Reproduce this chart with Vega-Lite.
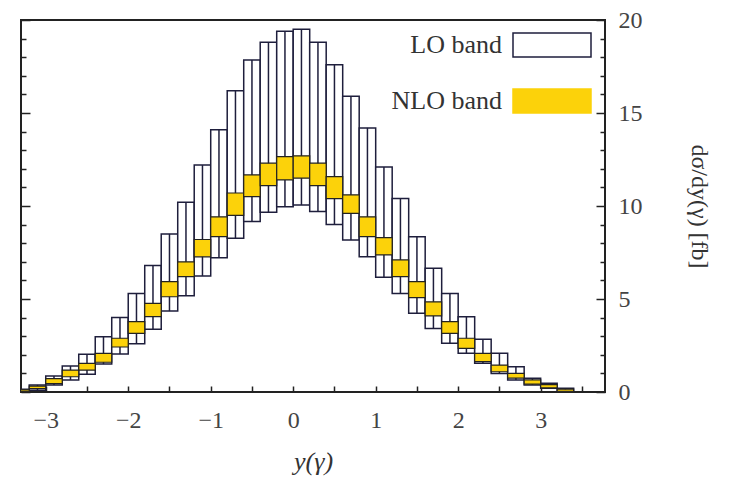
{
  "$schema": "https://vega.github.io/schema/vega-lite/v6.json",
  "width": 584,
  "height": 372,
  "autosize": "none",
  "padding": {"left": 21, "top": 20, "right": 130, "bottom": 94},
  "background": "white",
  "config": {
    "view": {"stroke": "#222", "strokeWidth": 2},
    "font": "Liberation Serif",
    "axis": {"grid": false, "domain": false, "tickColor": "#222", "tickWidth": 1.5, "labelColor": "#444", "labelFont": "Liberation Serif", "titleFont": "Liberation Serif", "titleFontWeight": "normal", "titleColor": "#333"}
  },
  "data": {
    "values": [
      {"x0": -3.4, "x1": -3.2, "lolo": 0.02, "lohi": 0.15, "nlolo": 0.04, "nlohi": 0.12},
      {"x0": -3.2, "x1": -3.0, "lolo": 0.1, "lohi": 0.38, "nlolo": 0.18, "nlohi": 0.32},
      {"x0": -3.0, "x1": -2.8, "lolo": 0.38, "lohi": 0.86, "nlolo": 0.45, "nlohi": 0.72},
      {"x0": -2.8, "x1": -2.6, "lolo": 0.65, "lohi": 1.4, "nlolo": 0.82, "nlohi": 1.18},
      {"x0": -2.6, "x1": -2.4, "lolo": 0.95, "lohi": 2.03, "nlolo": 1.18, "nlohi": 1.54},
      {"x0": -2.4, "x1": -2.2, "lolo": 1.5, "lohi": 2.97, "nlolo": 1.6, "nlohi": 2.08},
      {"x0": -2.2, "x1": -2.0, "lolo": 2.04, "lohi": 4.0, "nlolo": 2.42, "nlohi": 2.89},
      {"x0": -2.0, "x1": -1.8, "lolo": 2.6, "lohi": 5.3, "nlolo": 3.15, "nlohi": 3.78},
      {"x0": -1.8, "x1": -1.6, "lolo": 3.37, "lohi": 6.8, "nlolo": 4.05, "nlohi": 4.77},
      {"x0": -1.6, "x1": -1.4, "lolo": 4.35, "lohi": 8.5, "nlolo": 5.12, "nlohi": 5.93},
      {"x0": -1.4, "x1": -1.2, "lolo": 5.18, "lohi": 10.2, "nlolo": 6.2, "nlohi": 7.0},
      {"x0": -1.2, "x1": -1.0, "lolo": 6.24, "lohi": 12.2, "nlolo": 7.27, "nlohi": 8.2},
      {"x0": -1.0, "x1": -0.8, "lolo": 7.22, "lohi": 14.1, "nlolo": 8.35, "nlohi": 9.42},
      {"x0": -0.8, "x1": -0.6, "lolo": 8.26, "lohi": 16.2, "nlolo": 9.5, "nlohi": 10.7},
      {"x0": -0.6, "x1": -0.4, "lolo": 9.16, "lohi": 17.85, "nlolo": 10.5, "nlohi": 11.67},
      {"x0": -0.4, "x1": -0.2, "lolo": 9.66, "lohi": 18.8, "nlolo": 11.1, "nlohi": 12.3},
      {"x0": -0.2, "x1": 0.0, "lolo": 9.96, "lohi": 19.4, "nlolo": 11.4, "nlohi": 12.65},
      {"x0": 0.0, "x1": 0.2, "lolo": 10.05, "lohi": 19.5, "nlolo": 11.5, "nlohi": 12.7},
      {"x0": 0.2, "x1": 0.4, "lolo": 9.7, "lohi": 18.8, "nlolo": 11.1, "nlohi": 12.3},
      {"x0": 0.4, "x1": 0.6, "lolo": 9.0, "lohi": 17.6, "nlolo": 10.4, "nlohi": 11.58},
      {"x0": 0.6, "x1": 0.8, "lolo": 8.17, "lohi": 15.9, "nlolo": 9.6, "nlohi": 10.6},
      {"x0": 0.8, "x1": 1.0, "lolo": 7.27, "lohi": 14.2, "nlolo": 8.35, "nlohi": 9.42},
      {"x0": 1.0, "x1": 1.2, "lolo": 6.17, "lohi": 12.1, "nlolo": 7.37, "nlohi": 8.3},
      {"x0": 1.2, "x1": 1.4, "lolo": 5.3, "lohi": 10.4, "nlolo": 6.2, "nlohi": 7.1},
      {"x0": 1.4, "x1": 1.6, "lolo": 4.23, "lohi": 8.35, "nlolo": 5.07, "nlohi": 5.93},
      {"x0": 1.6, "x1": 1.8, "lolo": 3.42, "lohi": 6.65, "nlolo": 4.09, "nlohi": 4.85},
      {"x0": 1.8, "x1": 2.0, "lolo": 2.62, "lohi": 5.3, "nlolo": 3.15, "nlohi": 3.78},
      {"x0": 2.0, "x1": 2.2, "lolo": 2.08, "lohi": 4.05, "nlolo": 2.35, "nlohi": 2.89},
      {"x0": 2.2, "x1": 2.4, "lolo": 1.54, "lohi": 2.83, "nlolo": 1.63, "nlohi": 2.08},
      {"x0": 2.4, "x1": 2.6, "lolo": 1.0, "lohi": 2.08, "nlolo": 1.09, "nlohi": 1.45},
      {"x0": 2.6, "x1": 2.8, "lolo": 0.65, "lohi": 1.36, "nlolo": 0.75, "nlohi": 1.0},
      {"x0": 2.8, "x1": 3.0, "lolo": 0.38, "lohi": 0.74, "nlolo": 0.42, "nlohi": 0.65},
      {"x0": 3.0, "x1": 3.2, "lolo": 0.2, "lohi": 0.47, "nlolo": 0.22, "nlohi": 0.4},
      {"x0": 3.2, "x1": 3.4, "lolo": 0.02, "lohi": 0.2, "nlolo": 0.04, "nlohi": 0.15}
    ]
  },
  "transform": [{"calculate": "(datum.x0 + datum.x1) / 2", "as": "xm"}],
  "layer": [
    {
      "mark": {"type": "rect", "clip": true, "strokeWidth": 1.5},
      "encoding": {
        "x": {"field": "x0", "type": "quantitative",
          "scale": {"domain": [-3.3, 3.78], "nice": false, "zero": false},
          "axis": {"values": [-3, -2.5, -2, -1.5, -1, -0.5, 0, 0.5, 1, 1.5, 2, 2.5, 3, 3.5],
            "format": "~g",
            "labelExpr": "datum.value % 1 === 0 ? datum.label : ''",
            "tickSize": -6, "labelPadding": 22, "labelFontSize": 24,
            "title": "y(γ)", "titleFontSize": 26, "titleFontStyle": "italic", "titlePadding": 16}},
        "x2": {"field": "x1"},
        "y": {"field": "lolo", "type": "quantitative",
          "scale": {"domain": [0, 20], "nice": false},
          "axis": {"orient": "left", "values": [0,1,2,3,4,5,6,7,8,9,10,11,12,13,14,15,16,17,18,19,20],
            "labels": false, "title": null,
            "tickSize": {"condition": {"test": "datum.value % 5 === 0", "value": -9}, "value": -5}}},
        "y2": {"field": "lohi"},
        "fill": {"datum": "LO band", "type": "nominal",
          "scale": {"domain": ["LO band", "NLO band"], "range": ["white", "#fcd20a"]},
          "legend": {"orient": "none", "legendX": 491, "legendY": -15, "title": null,
            "symbolType": "M-1,-0.31H1V0.31H-1Z", "symbolSize": 6084, "symbolStrokeWidth": 1.5,
            "labelFont": "Liberation Serif", "labelFontSize": 26, "labelColor": "#333",
            "labelAlign": "right", "labelOffset": -90, "rowPadding": -30, "padding": 0}},
        "stroke": {"datum": "LO band", "type": "nominal",
          "scale": {"domain": ["LO band", "NLO band"], "range": ["#1e1e3c", "#fcd20a"]},
          "legend": {"orient": "none", "legendX": 491, "legendY": -15, "title": null,
            "symbolType": "M-1,-0.31H1V0.31H-1Z", "symbolSize": 6084, "symbolStrokeWidth": 1.5,
            "labelFont": "Liberation Serif", "labelFontSize": 26, "labelColor": "#333",
            "labelAlign": "right", "labelOffset": -90, "rowPadding": -30, "padding": 0}}
      }
    },
    {
      "mark": {"type": "rule", "clip": true, "strokeWidth": 1.5, "color": "#1e1e3c"},
      "encoding": {
        "x": {"field": "xm", "type": "quantitative"},
        "y": {"field": "lolo", "type": "quantitative", "axis": null},
        "y2": {"field": "lohi"}
      }
    },
    {
      "mark": {"type": "rect", "clip": true, "stroke": "#222", "strokeWidth": 1.2},
      "encoding": {
        "x": {"field": "x0", "type": "quantitative"},
        "x2": {"field": "x1"},
        "y": {"field": "nlolo", "type": "quantitative",
          "axis": {"orient": "right", "values": [0,1,2,3,4,5,6,7,8,9,10,11,12,13,14,15,16,17,18,19,20],
            "labelExpr": "datum.value % 5 === 0 ? datum.label : ''",
            "tickSize": {"condition": {"test": "datum.value % 5 === 0", "value": -9}, "value": -5},
            "labelPadding": 22, "labelFontSize": 24,
            "title": "dσ/dy(γ)  [fb]", "titleAngle": 90, "titleFontSize": 24, "titlePadding": 44}},
        "y2": {"field": "nlohi"},
        "fill": {"datum": "NLO band", "type": "nominal"}
      }
    }
  ],
  "resolve": {"axis": {"y": "independent"}}
}
